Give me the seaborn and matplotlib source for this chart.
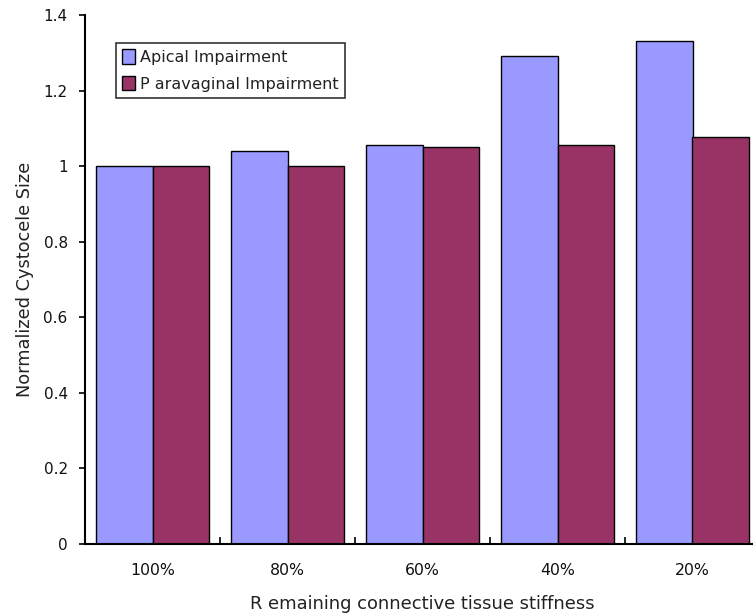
import matplotlib
matplotlib.use("Agg")
import matplotlib.pyplot as plt
import seaborn as sns
import pandas as pd

# Data
stiffness = ["100%", "80%", "60%", "40%", "20%"]
apical = [1.0, 1.040, 1.055, 1.292, 1.330]
paravaginal = [1.0, 1.0, 1.051, 1.055, 1.077]
series_names = ["Apical Impairment", "P aravaginal Impairment"]
y_ticks = [0, 0.2, 0.4, 0.6, 0.8, 1.0, 1.2, 1.4]
y_tick_labels = ["0", "0.2", "0.4", "0.6", "0.8", "1", "1.2", "1.4"]
x_title = "R emaining connective tissue stiffness"
y_title = "Normalized Cystocele Size"

df = pd.DataFrame({
    "stiffness": stiffness * 2,
    "size": apical + paravaginal,
    "series": [series_names[0]] * len(stiffness) + [series_names[1]] * len(stiffness),
})

sns.set_theme(style="white")
plt.rcParams["font.family"] = ["DejaVu Sans"]

fig = plt.figure(figsize=(7.53, 6.16), dpi=100)
ax = fig.add_axes([85 / 753, 72 / 616, 675 / 753, 529 / 616])

sns.barplot(
    data=df, x="stiffness", y="size", hue="series", order=stiffness,
    hue_order=series_names, palette=["#9999FF", "#993366"], width=0.83,
    edgecolor="black", linewidth=1.0, saturation=1, ax=ax,
)

ax.set_ylim(0, 1.4)
ax.set_xlim(-0.5, 4.5)
ax.set_yticks(y_ticks)
ax.set_yticklabels(y_tick_labels)

for side in ["top", "right"]:
    ax.spines[side].set_visible(False)
for side in ["left", "bottom"]:
    ax.spines[side].set_color("black")
    ax.spines[side].set_linewidth(1.5)

ax.tick_params(axis="y", direction="out", length=4, width=1.2, color="black",
               labelsize=11, labelcolor="#111111", left=True, pad=8.5)
ax.tick_params(axis="x", which="major", length=0, labelsize=11.3,
               labelcolor="#111111", pad=14)
ax.set_xticks([0.5, 1.5, 2.5, 3.5], minor=True)
ax.tick_params(axis="x", which="minor", direction="in", length=5, width=1.2,
               color="black", bottom=True)

xl = ax.set_xlabel(x_title, fontsize=12.8, color="#222222", labelpad=12)
yl = ax.set_ylabel(y_title, fontsize=12.8, color="#222222", labelpad=7)

# size the axis titles to their target extents
renderer = fig.canvas.get_renderer()
for label, target, use_width in [(xl, 344, True), (yl, 235, False)]:
    bb = label.get_window_extent(renderer)
    extent = bb.width if use_width else bb.height
    label.set_fontsize(label.get_fontsize() * target / extent)

leg = ax.legend(loc="upper left", bbox_to_anchor=(31 / 675, 1 - 28 / 529),
                frameon=True, fancybox=False, edgecolor="black", fontsize=11.5,
                handlelength=0.8, handleheight=1.0, handletextpad=0.3,
                borderpad=0.4, labelspacing=0.7, borderaxespad=0)
leg.get_frame().set_linewidth(1.2)
for t in leg.get_texts():
    t.set_color("#222222")

fig.savefig("out.png", dpi=100)
